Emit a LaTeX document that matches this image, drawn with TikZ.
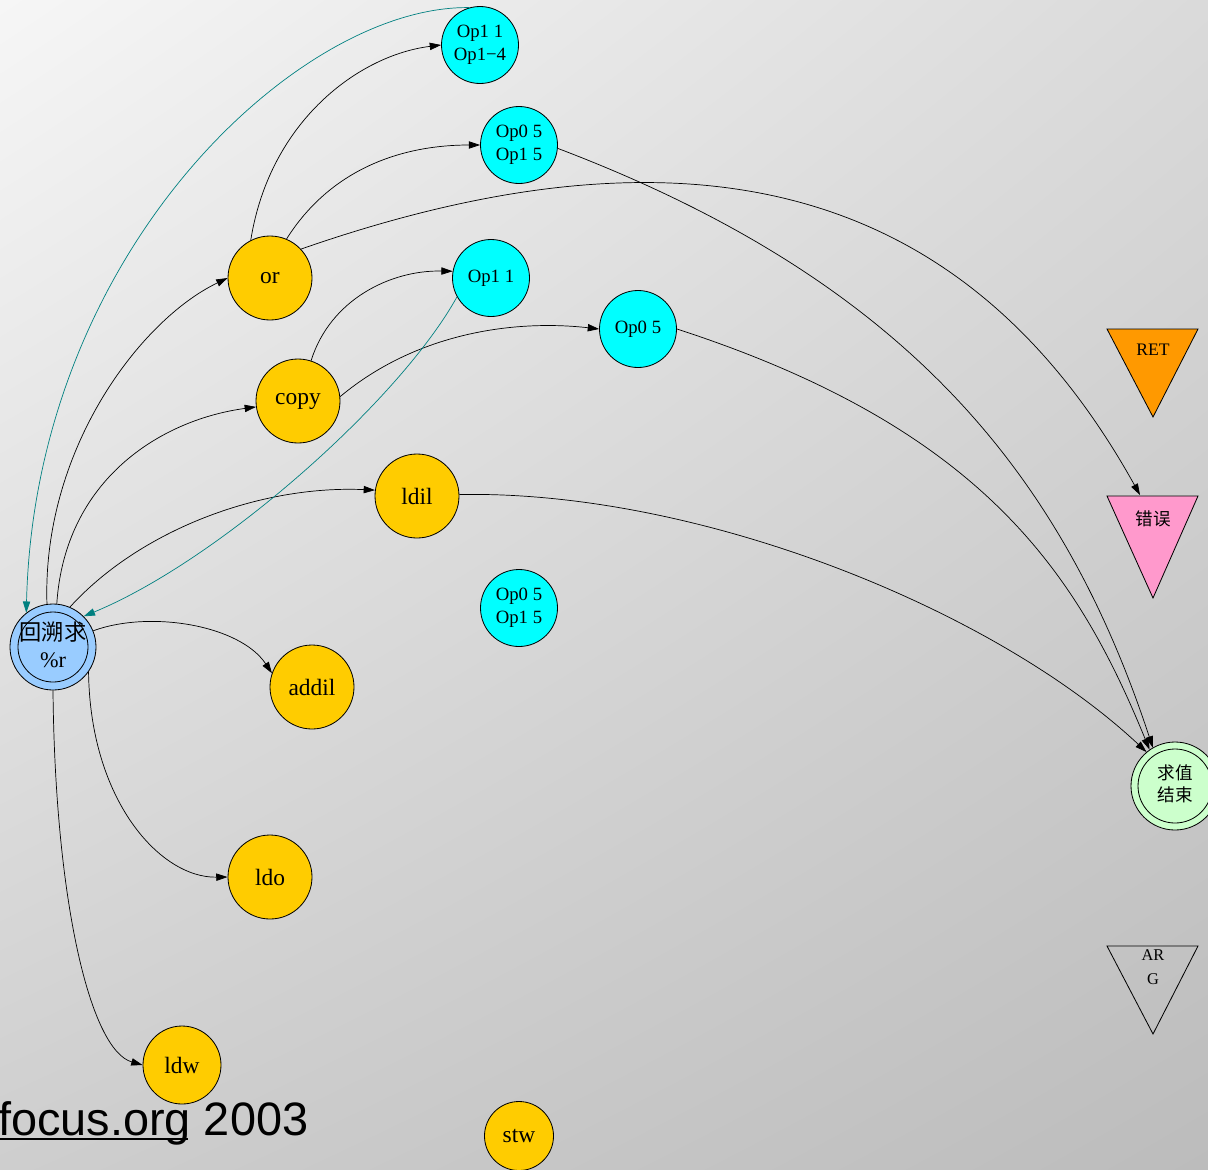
\documentclass[tikz,border=0pt]{standalone}
\usepackage{fontspec}
\setmainfont{Liberation Serif}
\newfontfamily\cjk{Noto Sans CJK SC}
\newfontfamily\footfont{Liberation Sans}
\usetikzlibrary{arrows.meta,shadings}
\definecolor{opyellow}{HTML}{FFCC00}
\definecolor{opcyan}{HTML}{00FFFF}
\definecolor{stblue}{HTML}{99CCFF}
\definecolor{stgreen}{HTML}{CCFFCC}
\definecolor{retorange}{HTML}{FF9900}
\definecolor{errpink}{HTML}{FF99CC}
\definecolor{backteal}{HTML}{008080}
\definecolor{bgA}{RGB}{246,246,246}
\definecolor{bgB}{RGB}{218,218,218}
\definecolor{bgC}{RGB}{206,206,206}
\definecolor{bgD}{RGB}{188,188,188}
\tikzset{
  op/.style={circle, draw=black, line width=0.7pt, fill=opyellow, minimum size=2.52cm, inner sep=0pt,
             font=\fontsize{20}{22}\selectfont},
  operand/.style={circle, draw=black, line width=0.7pt, fill=opcyan, minimum size=2.31cm, inner sep=0pt,
             align=center, font=\fontsize{16}{19.5}\selectfont},
  tri/.style={draw=black, line width=0.7pt},
  trilabel/.style={inner sep=0pt, align=center, font=\fontsize{15}{20}\selectfont},
  link/.style={-{Triangle[length=0.34cm,width=0.22cm]}, line width=0.6pt, draw=black},
  backlink/.style={-{Triangle[length=0.34cm,width=0.22cm]}, line width=0.6pt, draw=backteal},
}
\begin{document}
\begin{tikzpicture}[x=0.03cm, y=-0.03cm]
  % page background
  \clip (0,0) rectangle (1208,1169);
  \shade[upper left=bgA, upper right=bgB, lower left=bgC, lower right=bgD] (0,0) rectangle (1208,1169);

  % state nodes (double circles)
  \node[circle, draw=black, line width=0.7pt, fill=stblue, minimum size=2.58cm, inner sep=0pt] (blue) at (53,647) {};
  \draw[line width=0.7pt] (blue.center) circle (1.05cm);
  \node[align=center, inner sep=0pt, font=\cjk\fontsize{19}{25}\selectfont] (bluetext) at (53,645) {回溯求\\[-2pt]{\rmfamily\%r}};

  \node[circle, draw=black, line width=0.7pt, fill=stgreen, minimum size=2.64cm, inner sep=0pt] (green) at (1175,786) {};
  \draw[line width=0.7pt] (green.center) circle (1.11cm);
  \node[align=center, inner sep=0pt, font=\cjk\fontsize{15}{19}\selectfont] (greentext) at (1175,784) {求值\\结束};

  % instruction nodes
  \node[op] (or)    at (270,278)  {or};
  \node[op] (copy)  at (298,401)  {copy};
  \node[op] (ldil)  at (417,496)  {ldil};
  \node[op] (addil) at (312,687)  {addil};
  \node[op] (ldo)   at (270,877)  {ldo};
  \node[op, minimum size=2.34cm] (ldw) at (182,1065) {ldw};
  \node[op, minimum size=2.07cm] (stw) at (519,1136) {stw};

  % operand nodes
  \node[operand] (opA) at (480,45)  {Op1 1\\Op1−4};
  \node[operand] (opB) at (519,145) {Op0 5\\Op1 5};
  \node[operand] (opC) at (491,278) {Op1 1};
  \node[operand] (opD) at (638,329) {Op0 5};
  \node[operand] (opE) at (519,608) {Op0 5\\Op1 5};

  % terminal triangles
  \draw[tri, fill=retorange] (1107,329) -- (1198,329) -- (1153,417) -- cycle;
  \node[trilabel] (ret) at (1153,350) {RET};
  \draw[tri, fill=errpink] (1107,496) -- (1198,496) -- (1153,598) -- cycle;
  \coordinate (errtop) at (1140,495);
  \node[trilabel, font=\cjk\fontsize{15}{20}\selectfont] (err) at (1153,519) {错误};
  \draw[tri] (1107,946) -- (1198,946) -- (1153,1034) -- cycle;
  \node[trilabel, font=\fontsize{14}{21}\selectfont] (arg) at (1153,967) {AR\\G};

  % transitions from the start state
  \draw[link] (blue.98)  .. controls (42,450) and (140,320) .. (or.180);
  \draw[link] (blue.85)  .. controls (65,480) and (160,420) .. (copy.188);
  \draw[link] (blue.67)  .. controls (140,530) and (260,485) .. (ldil.172);
  \draw[link] (blue.22)  .. controls (150,610) and (240,625) .. (addil.161);
  \draw[link] (blue.-35) .. controls (90,800) and (160,878) .. (ldo.180);
  \draw[link] (blue.-90) .. controls (55,900) and (90,1050) .. (ldw.180);

  % operand transitions
  \draw[link] (or.117) .. controls (270,120) and (360,55) .. (opA.180);
  \draw[link] (or.67)  .. controls (330,170) and (400,145) .. (opB.180);
  \draw[link] (or.43)  .. controls (700,110) and (970,189) .. (errtop);
  \draw[link] (copy.72) .. controls (330,300) and (390,270) .. (opC.170);
  \draw[link] (copy.6)  .. controls (420,330) and (520,320) .. (opD.180);

  % transitions into the final state
  \draw[link] (opB.-5) .. controls (907,281) and (1063,475) .. (green.120);
  \draw[link] (opD.0)  .. controls (985,429) and (1078,575) .. (green.125);
  \draw[link] (ldil.2) .. controls (700,490) and (995,610) .. (green.130);

  % back edges to the start state
  \draw[backlink] (opC.209) .. controls (400,400) and (220,560) .. (blue.45);
  \draw[backlink] (opA.106) .. controls (300,5) and (35,250) .. (blue.128);

  % footer
  \node[anchor=base west, inner sep=0pt, font=\footfont\fontsize{40}{44}\selectfont] (foot) at (-2,1135) {focus.org 2003};
  \coordinate (ulstart) at (0,1139);
  \coordinate (ulend) at (188,1139);
  \draw[line width=1pt] (ulstart) -- (ulend);
\end{tikzpicture}
\end{document}
